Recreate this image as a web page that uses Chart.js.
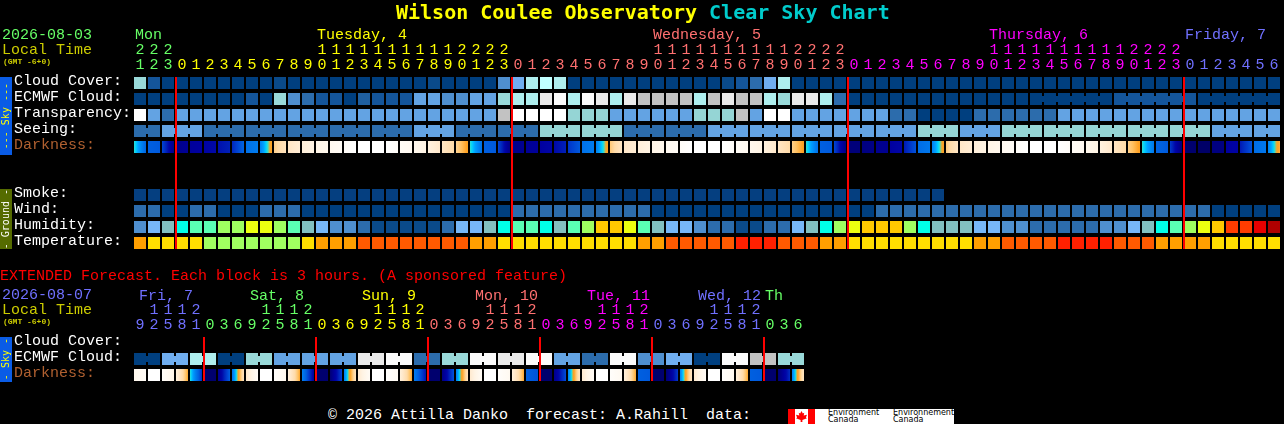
<!DOCTYPE html>
<html><head><meta charset="utf-8">
<script src="https://cdn.jsdelivr.net/npm/chart.js@4"></script>
<style>
html,body{margin:0;padding:0;background:#000;width:1284px;height:424px;overflow:hidden}
canvas{position:absolute;left:0;display:block}
.t{position:absolute;white-space:pre;font-family:"Liberation Mono",monospace;font-size:15px;line-height:16px}
.side{position:absolute;left:0;width:12px;display:flex;align-items:center;justify-content:center;overflow:hidden}
.side span{writing-mode:vertical-rl;transform:rotate(180deg);font:10px/12px "DejaVu Sans Mono",monospace;white-space:pre}
.env{position:absolute;color:#000;font:8px/7px "DejaVu Sans",sans-serif;white-space:pre}
</style></head><body>
<canvas id="main" width="1284" height="262" style="top:0;width:1284px;height:262px"></canvas>
<canvas id="ext" width="1284" height="132" style="top:262px;width:1284px;height:132px"></canvas>

<div class="t" style="left:396px;top:0;font:bold 20px/24px 'DejaVu Sans Mono',monospace;color:#ffff00">Wilson Coulee Observatory <span style="color:#00cccc">Clear Sky Chart</span></div>
<div class="t" style="left:2px;top:28px;color:#66ff66">2026-08-03</div>
<div class="t" style="left:2px;top:43px;color:#cccc00">Local Time</div>
<div class="t" style="left:3px;top:54px;color:#cccc00;font-size:8px;font-weight:bold">(GMT -6+0)</div>
<div class="side" style="top:77px;height:78px;background:#0a5ce6"><span style="color:#ffff00">--- Sky ---</span></div>
<div class="side" style="top:189px;height:60px;background:#556b00"><span style="color:#fff">- Ground -</span></div>
<div class="t" style="left:0;top:269px;color:#ff0000">EXTENDED Forecast. Each block is 3 hours. (A sponsored feature)</div>
<div class="t" style="left:2px;top:288px;color:#7070ff">2026-08-07</div>
<div class="t" style="left:2px;top:303px;color:#cccc00">Local Time</div>
<div class="t" style="left:3px;top:314px;color:#cccc00;font-size:8px;font-weight:bold">(GMT -6+0)</div>
<div class="side" style="top:337px;height:45px;background:#0a5ce6"><span style="color:#ffff00">- Sky -</span></div>
<div class="t" style="left:328px;top:408px;color:#fff">© 2026 Attilla Danko  forecast: A.Rahill  data:</div>

<div style="position:absolute;left:788px;top:409px;width:166px;height:15px;background:#fff;overflow:hidden">
  <div style="position:absolute;left:0;top:0;width:7px;height:15px;background:#f00"></div>
  <div style="position:absolute;left:20px;top:0;width:7px;height:15px;background:#f00"></div>
  <div style="position:absolute;left:8px;top:2px;width:11px;height:11px;background:#f00;clip-path:polygon(50% 0,62% 22%,75% 15%,70% 42%,100% 35%,90% 58%,100% 65%,58% 82%,58% 100%,42% 100%,42% 82%,0 65%,10% 58%,0 35%,30% 42%,25% 15%,38% 22%)"></div>
  <div class="env" style="left:40px;top:0">Environment
Canada</div>
  <div class="env" style="left:105px;top:0">Environnement
Canada</div>
</div>

<script>
// ---------- main forecast (1 block = 1 hour) ----------
const hoursMain = [21,22,23,
 0,1,2,3,4,5,6,7,8,9,10,11,12,13,14,15,16,17,18,19,20,21,22,23,
 0,1,2,3,4,5,6,7,8,9,10,11,12,13,14,15,16,17,18,19,20,21,22,23,
 0,1,2,3,4,5,6,7,8,9,10,11,12,13,14,15,16,17,18,19,20,21,22,23,
 0,1,2,3,4,5,6];
const rowsMain = ['Cloud Cover:','ECMWF Cloud:','Transparency:','Seeing:','Darkness:','','','Smoke:','Wind:','Humidity:','Temperature:'];

const cloudCover = [60,10,0,0,0,0,0,0,0,0,5,0,0,0,0,0,0,0,0,0,0,5,0,0,0,0,30,50,70,75,70,
 0,0,0,0,0,0,0,0,0,0,0,5,10,20,50,70,
 0,0,0,0,0,0,0,0,0,0,0,0,0,0,0,0,0,0,0,0,0,0,0,0,0,0,0,0,0,0,0,0,0,0,0];
const ecmwfCloud = [0,0,0,0,0,0,0,0,10,0,60,30,20,10,10,0,15,10,10,10,40,40,30,30,40,40,60,70,70,80,100,
 70,100,80,70,80,90,90,90,90,70,90,80,90,90,70,60,80,80,70,20,
 0,0,0,0,0,0,0,0,0,0,0,0,0,0,0,0,0,0,0,10,10,10,10,10,10,0,0,0,0,0,0];
const transparency = [4,2,1,2,2,2,2,2,2,2,2,2,2,2,2,2,2,2,2,2,2,2,2,2,2,2,5,4,4,4,4,3,3,3,
 2,2,2,2,2,2,3,3,3,5,2,4,4,2,2,2,2,2,2,2,1,1,0,0,0,0,1,1,1,1,1,1,
 2,2,2,2,2,2,2,2,2,2,2,2,2,2,2,2];
const seeing = [1,1,2,2,2,1,1,1,1,1,1,1,1,1,1,1,1,1,1,1,2,2,2,1,1,1,1,1,1,3,3,3,3,3,3,1,1,1,1,1,1,
 2,2,2,2,2,2,2,2,2,2,2,2,2,2,2,3,3,3,2,2,2,3,3,3,3,3,3,3,3,3,3,3,3,3,3,3,2,2,2,2,2];
const darkFrom = [1.9,4,4.4,6,5.7,5.5,5.2,4.9,3.6,3.2,0.3,-0.8,-1.6,-2.2,-2.8,-3.4,-4,-4,-4,-3.2,-2.6,-1.8,-0.8,0.2,
 1.9,4,4.4,6,5.8,5.6,5.3,4.7,3.6,3.2,0.5,-0.9,-1.6,-2.2,-2.8,-3.4,-4,-4,-4,-3.2,-2.6,-1.8,-0.8,0.3,
 1.9,4,4.4,6.3,6.2,5.9,5.6,5.1,3.7,3.2,0.4,-0.9,-1.6,-2.2,-2.8,-3.4,-4,-4,-4,-3.2,-2.6,-1.8,-0.8,0.3,
 1.9,3.9,4.6,6.5,6.6,6.2,5.6,5.1,3.7,3.2];
const darkTo = [3.9,4.1,6,5.8,5.6,5.3,5,3.9,3.3,1.2,-0.6,-1.4,-2,-2.6,-3.2,-4,-4,-4,-3.4,-2.8,-2,-1,0,1.3,
 3.6,4.1,6.1,5.9,5.7,5.4,5,4.1,3.3,1.2,-0.8,-1.4,-2,-2.6,-3.2,-4,-4,-4,-3.4,-2.8,-2,-1,0,1.3,
 3.6,4.1,6.2,6.3,6.1,5.9,5.4,4.2,3.4,1.2,-0.8,-1.4,-2,-2.6,-3.2,-4,-4,-4,-3.4,-2.8,-2,-1,0,1.3,
 3.4,4.1,6.3,6.5,6.6,6.2,5.5,4.2,3.4,0.9];
const smoke = [0,0,0,0,0,0,0,0,0,0,0,0,0,0,0,0,0,0,0,0,0,0,0,0,0,0,0,0,0,0,0,0,0,0,0,0,0,0,0,0,0,0,0,0,0,0,0,0,0,0,0,0,0,0,0,0,0,0];
const wind = [1,1,0,0,1,1,0,0,0,1,1,1,0,0,0,0,0,0,0,0,0,0,0,0,0,0,0,1,1,1,1,1,1,1,1,1,1,
 0,0,0,0,0,0,0,0,0,0,0,0,0,0,0,0,1,1,1,1,1,1,1,1,1,1,1,1,1,1,1,1,1,1,1,1,1,1,1,1,0,0,0,0,0,1];
const humidity = [2,3,4,5,6,6,7,7,8,8,7,6,4,3,2,2,1,0,0,0,0,0,1,3,3,4,5,6,6,5,4,6,7,9,9,8,6,4,3,3,2,1,1,0,0,1,1,3,4,5,7,8,
 9,9,9,7,5,4,4,4,3,3,2,2,1,1,1,1,1,2,2,3,4,5,6,7,8,9,10,10,11,12];
const temperature = [2,1,1,1,1,0,0,0,0,0,0,0,1,2,2,2,3,3,3,3,3,3,3,3,2,2,1,1,1,1,1,1,1,1,1,1,2,2,3,3,3,3,3,4,4,4,3,3,3,2,2,
 1,1,1,1,1,1,1,1,1,2,2,3,3,3,3,4,4,4,4,3,3,3,2,2,2,2,1,1,1,1,1];
const seeingBlocks = [2,3,3,3,3,3,3,3,3,3,3,3,3,3,3,3,3,3,3,3,3,3,3,3,3,3,3,2];
const ecmwfBlocks = [1,1,1,1,1,1,1,1,1,1,1,1,1,1,1,1,1,1,1,1,1,1,1,1,1,1,1,1,1,1,1,1,1,1,1,1,1,1,1,1,1,1,1,1,1,1,1,1,1,1,1,1,1,1,1,1,1,1,1,1,1,1,1,1,6,6,6];
const midnightsMain = [3,27,51,75];
const dayNamesMain = ['Mon','Tuesday, 4','Wednesday, 5','Thursday, 6','Friday, 7'];
const dayLabelAtMain = [0,13,37,61,75];
const dayFirstBlockMain = [0,3,27,51,75];
const dayNudgeMain = [2,2,2,2,2];
const dayColorsMain = ['#66ff66','#ffff00','#ff7070','#ff00ff','#7070ff'];

// ---------- extended forecast (1 block = 3 hours) ----------
const hoursExt = [9,12,15,18,21,0,3,6,9,12,15,18,21,0,3,6,9,12,15,18,21,0,3,6,9,12,15,18,21,0,3,6,9,12,15,18,21,0,3,6,9,12,15,18,21,0,3,6];
const rowsExt = ['Cloud Cover:','ECMWF Cloud:','Darkness:'];
const ecmwfExt = [0,0,50,50,70,70,0,0,60,60,40,40,40,40,40,40,80,80,100,100,20,20,60,60,100,100,80,80,100,100,40,40,20,20,100,100,30,30,50,50,0,0,100,100,90,90,60,60];
const darkFromExt = [-2.6,-4,-3.4,-1.6,1.9,6.5,6,3.6,-1,-4,-3.6,-1.6,3.2,6.5,6.4,3.2,-1.2,-4,-3.8,-1.6,3.3,6.5,6.2,3.2,-1.2,-4,-3.6,-1.6,4,6.5,6,3.2,-1.2,-4,-3.6,-1.6,4,6.5,6.4,3.2,-1.2,-4,-3.6,-1.6,4,6.5,6.4,3.2];
const darkToExt = [-3.2,-4,-2.2,1.1,4.8,6.5,4,-0.6,-3.2,-4,-2.6,1.1,5.6,6.5,4.4,-0.6,-3.2,-4,-3,1.1,5.2,6.5,4.2,-0.6,-3.2,-4,-2.8,1.1,4.2,6.5,4.3,-0.8,-3.2,-4,-2.8,1.1,4.1,6.5,4.6,-0.8,-3.2,-4,-2.8,1.1,4.1,6.5,4.8,-0.8];
const ecmwfBlocksExt = [2,2,2,2,2,2,2,2,2,2,2,2,2,2,2,2,2,2,2,2,2,2,2,2];
const midnightsExt = [5,13,21,29,37,45];
const dayNamesExt = ['Fri, 7','Sat, 8','Sun, 9','Mon, 10','Tue, 11','Wed, 12','Th'];
const dayLabelAtExt = [0,8,16,24,32,40,45];
const dayFirstBlockExt = [0,5,13,21,29,37,45];
const dayNudgeExt = [6,5,5,6,6,5,2];
const dayColorsExt = ['#7070ff','#66ff66','#ffff00','#ff7070','#ff00ff','#7070ff','#66ff66'];

// ---------- colour scales ----------
const cloudColors = {0:'#003f7f',5:'#0a4a8a',10:'#14559a',15:'#1f5f9f',20:'#2c6cac',30:'#4f8fcf',40:'#63a3e3',50:'#70aef0',60:'#99d9d9',70:'#aeeeee',75:'#c0ffff',80:'#eaeaea',90:'#c2c2c2',100:'#fbfbfb'};
const transColors = ['#003f7f','#2c6cac','#63a3e3','#95d5d5','#ffffff','#c2c2c2'];
const seeingColors = ['#003f7f','#2c6cac','#63a3e3','#95d5d5'];
const windColors = ['#003f7f','#2c6cac'];
const smokeColors = ['#053f80'];
const humidColors = ['#0a4a8a','#2c6cac','#4f8fcf','#77b7f7','#82c0c0','#00ffe8','#5affb4','#9fff60','#ecff10','#ffc800','#ff3c00','#e60000','#b00000'];
const tempColors = ['#a0ff60','#ffde00','#ff9f00','#ff5a00','#ff2000'];
const darkStops = [[-4,255,255,255],[-3,255,250,243],[-2,255,244,228],[-1,255,232,203],[0,255,219,168],[0.7,255,192,96],[1.2,255,160,32],
 [1.6,240,168,48],[1.9,48,224,208],[2.2,0,208,255],[2.6,0,160,255],[3.2,0,128,240],[3.6,0,112,232],[4,0,96,224],[4.5,0,64,208],[5,0,32,184],
 [5.3,0,8,168],[5.6,0,0,160],[5.9,0,0,144],[6.2,0,0,128],[6.6,0,0,104]];

function darkColor(m){
  let s = darkStops;
  if(m<=s[0][0]) return `rgb(${s[0][1]},${s[0][2]},${s[0][3]})`;
  for(let i=1;i<s.length;i++){
    if(m<=s[i][0]){
      const a=s[i-1],b=s[i],t=(m-a[0])/(b[0]-a[0]);
      return `rgb(${Math.round(a[1]+(b[1]-a[1])*t)},${Math.round(a[2]+(b[2]-a[2])*t)},${Math.round(a[3]+(b[3]-a[3])*t)})`;
    }
  }
  const l=s[s.length-1]; return `rgb(${l[1]},${l[2]},${l[3]})`;
}
const HALF = 0.375;
const LABEL_LIFT = 0.125;
function cells(values,row){ return values.map(()=>[row-HALF,row+HALF]); }
function row(values,r,pal,blocks){
  return {data:cells(values,r),backgroundColor:values.map(v=>pal[v]),_blocks:blocks,_vals:values,_pal:pal,_row:r};
}
function darkRow(from,to,r){
  return {data:cells(from,r),_row:r,backgroundColor(ctx){
    const i=ctx.dataIndex;
    if(i===undefined) return '#000';
    const c=ctx.chart, x=c.scales.x?c.scales.x.getPixelForValue(i):NaN;
    const a=from[i], b=to[i];
    if(!Number.isFinite(x)) return darkColor(a);
    const g=c.ctx.createLinearGradient(x-6,0,x+6,0);
    for(let k=0;k<=12;k++) g.addColorStop(k/12,darkColor(a+(b-a)*k/12));
    return g;
  }};
}
const overlay = {
  id:'overlay',
  beforeDatasetsDraw(c){
    const g=c.ctx,{x,y}=c.scales;
    c.data.datasets.forEach(d=>{
      if(!d._blocks) return;
      let i=0;
      d._blocks.forEach(n=>{
        for(let k=0;k<n-1;k++){
          const idx=i+k, px=x.getPixelForValue(idx);
          g.fillStyle=d._pal[d._vals[idx]];
          g.fillRect(px+5,y.getPixelForValue(d._row-0.1875),4,y.getPixelForValue(d._row+0.1875)-y.getPixelForValue(d._row-0.1875));
        }
        i+=n;
      });
    });
  },
  afterDatasetsDraw(c,_,o){
    const g=c.ctx,{x,y}=c.scales,top=y.getPixelForValue(-HALF),bot=y.getPixelForValue(o.rows-1+HALF);
    g.save();
    g.fillStyle='#ff0000';
    o.midnights.forEach(i=>g.fillRect(x.getPixelForValue(i)-7,top,2,bot-top));
    g.font='15px "Liberation Mono"';g.textBaseline='middle';g.textAlign='left';
    o.names.forEach((n,i)=>{g.fillStyle=o.colors[i];g.fillText(n,x.getPixelForValue(o.at[i])-6+o.nudge[i]-1,o.dayY);});
    g.restore();
  }
};
function build(id,o){
  const dayColor=i=>{let k=0;o.first.forEach((s,j)=>{if(i>=s)k=j;});return o.colors[k];};
  const rowName=v=>o.rows[Math.round(v+LABEL_LIFT)];
  return new Chart(document.getElementById(id),{
    type:'bar',
    data:{labels:o.hours.map(String),datasets:o.datasets},
    plugins:[overlay],
    options:{
      responsive:false,animation:false,devicePixelRatio:1,
      layout:{padding:{left:14,top:0,right:o.right,bottom:o.bottom}},
      datasets:{bar:{grouped:false,barThickness:12,borderWidth:0,inflateAmount:0,borderSkipped:false}},
      plugins:{legend:{display:false},tooltip:{enabled:false},title:{display:false},
        overlay:{rows:o.rows.length,midnights:o.midnights,names:o.names,at:o.at,nudge:o.nudge,colors:o.colors,dayY:o.dayY}},
      scales:{
        x:{type:'category',position:'top',offset:true,grid:{display:false,drawTicks:false},border:{display:false},
          afterFit(s){s.height=o.axisH;},
          ticks:{autoSkip:false,maxRotation:0,minRotation:0,padding:2.5,
            font:{family:'"Liberation Mono"',size:15,lineHeight:1},
            color:c=>dayColor(c.index),
            callback(v,i){const h=o.hours[i];return [h>=10?String(Math.floor(h/10)):'',String(h%10)];}}},
        y:{type:'linear',position:'left',reverse:true,min:-0.5,max:o.rows.length-0.5,grid:{display:false,drawTicks:false},border:{display:false},
          afterFit(s){s.width=119;},
          afterBuildTicks(s){s.ticks=o.rows.map((_,i)=>({value:i-LABEL_LIFT}));},
          ticks:{autoSkip:false,crossAlign:'far',padding:0,font:{family:'"Liberation Mono"',size:15},
            color:c=>rowName(c.tick.value)==='Darkness:'?'#b06030':'#ffffff',
            callback:v=>rowName(v)}}
      }
    }
  });
}
Chart.defaults.color='#fff';
build('main',{hours:hoursMain,rows:rowsMain,right:3,bottom:11,axisH:75,dayY:35,midnights:midnightsMain,names:dayNamesMain,at:dayLabelAtMain,first:dayFirstBlockMain,nudge:dayNudgeMain,colors:dayColorsMain,
  datasets:[
    row(cloudCover,0,cloudColors),
    row(ecmwfCloud,1,cloudColors,ecmwfBlocks),
    row(transparency,2,transColors),
    row(seeing,3,seeingColors,seeingBlocks),
    darkRow(darkFrom,darkTo,4),
    row(smoke,7,smokeColors),
    row(wind,8,windColors),
    row(humidity,9,humidColors),
    row(temperature,10,tempColors)
  ]});
build('ext',{hours:hoursExt,rows:rowsExt,right:479,bottom:11,axisH:73,dayY:34,midnights:midnightsExt,names:dayNamesExt,at:dayLabelAtExt,first:dayFirstBlockExt,nudge:dayNudgeExt,colors:dayColorsExt,
  datasets:[
    row(ecmwfExt,1,cloudColors,ecmwfBlocksExt),
    darkRow(darkFromExt,darkToExt,2)
  ]});
</script>
</body></html>
